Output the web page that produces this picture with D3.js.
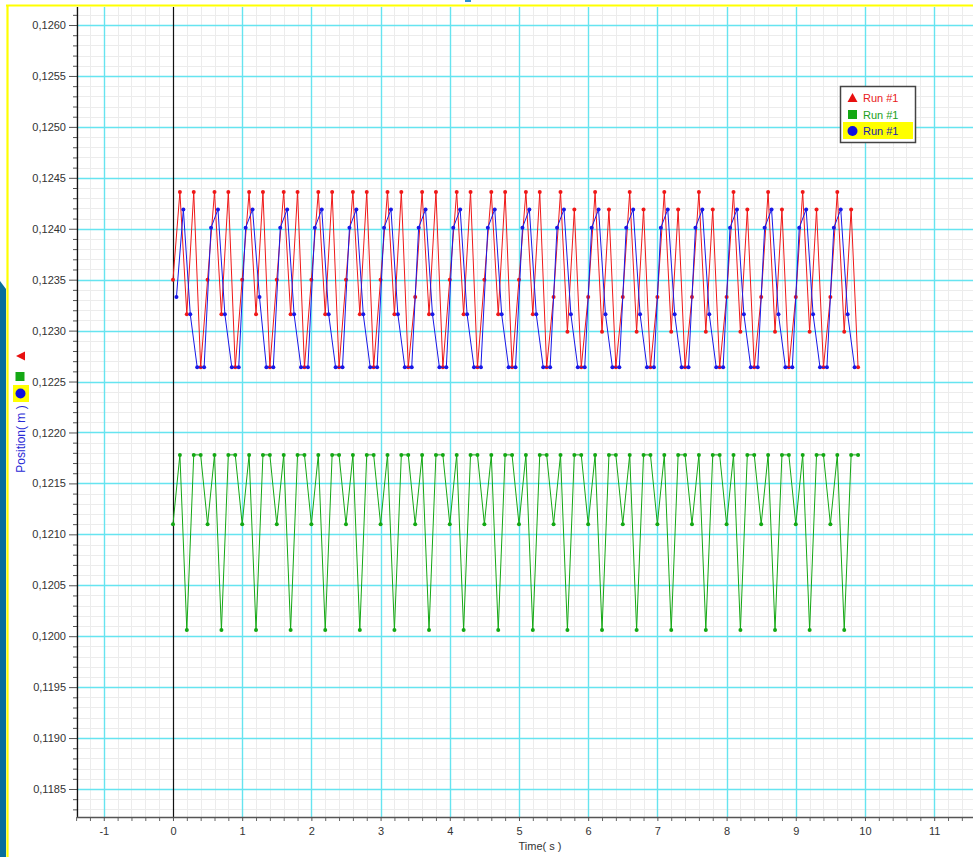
<!DOCTYPE html>
<html><head><meta charset="utf-8">
<script src="https://cdn.jsdelivr.net/npm/d3@7"></script>
<style>body{margin:0;background:#fff;overflow:hidden} svg{display:block;font-family:"Liberation Sans",Arial,sans-serif;}</style>
</head><body><svg id="c" width="973" height="857"></svg>
<script>
// ---- data ----
const xTickLabels = [-1, 0, 1, 2, 3, 4, 5, 6, 7, 8, 9, 10, 11];
const yTickLabels = [0.1185, 0.1190, 0.1195, 0.1200, 0.1205, 0.1210, 0.1215, 0.1220, 0.1225, 0.1230, 0.1235, 0.1240, 0.1245, 0.1250, 0.1255, 0.1260];
const seriesNames = ["Run #1", "Run #1", "Run #1"];

const redTime = [0,0.1,0.2,0.3,0.4,0.5,0.6,0.7,0.8,0.9,1,1.1,1.2,1.3,1.4,1.5,1.6,1.7,1.8,1.9,2,2.1,2.2,2.3,2.4,2.5,2.6,2.7,2.8,2.9,3,3.1,3.2,3.3,3.4,3.5,3.6,3.7,3.8,3.9,4,4.1,4.2,4.3,4.4,4.5,4.6,4.7,4.8,4.9,5,5.1,5.2,5.3,5.4,5.5,5.6,5.7,5.8,5.9,6,6.1,6.2,6.3,6.4,6.5,6.6,6.7,6.8,6.9,7,7.1,7.2,7.3,7.4,7.5,7.6,7.7,7.8,7.9,8,8.1,8.2,8.3,8.4,8.5,8.6,8.7,8.8,8.9,9,9.1,9.2,9.3,9.4,9.5,9.6,9.7,9.8,9.9];
const redValues = [
0.1235,0.12436,0.12316,0.12436,0.12264, 0.1235,0.12436,0.12316,0.12436,0.12264,
0.1235,0.12436,0.12316,0.12436,0.12264, 0.1235,0.12436,0.12316,0.12436,0.12264,
0.1235,0.12436,0.12316,0.12436,0.12264, 0.1235,0.12436,0.12316,0.12436,0.12264,
0.1235,0.12436,0.12316,0.12436,0.12264, 0.12333,0.12436,0.12316,0.12436,0.12264,
0.1235,0.12436,0.12316,0.12436,0.12264, 0.1235,0.12436,0.12316,0.12436,0.12264,
0.1235,0.12436,0.12316,0.12436,0.12264, 0.12333,0.12436,0.12299,0.12419,0.12264,
0.12333,0.12436,0.12299,0.12419,0.12264, 0.12333,0.12436,0.12299,0.12419,0.12264,
0.12333,0.12436,0.12299,0.12419,0.12264, 0.12333,0.12436,0.12299,0.12419,0.12264,
0.12333,0.12436,0.12299,0.12419,0.12264, 0.12333,0.12436,0.12299,0.12419,0.12264,
0.12333,0.12436,0.12299,0.12419,0.12264, 0.12333,0.12436,0.12299,0.12419,0.12264];

const greenTime = redTime;
const greenValues = [
0.1211,0.12178,0.12006,0.12178,0.12178, 0.1211,0.12178,0.12006,0.12178,0.12178,
0.1211,0.12178,0.12006,0.12178,0.12178, 0.1211,0.12178,0.12006,0.12178,0.12178,
0.1211,0.12178,0.12006,0.12178,0.12178, 0.1211,0.12178,0.12006,0.12178,0.12178,
0.1211,0.12178,0.12006,0.12178,0.12178, 0.1211,0.12178,0.12006,0.12178,0.12178,
0.1211,0.12178,0.12006,0.12178,0.12178, 0.1211,0.12178,0.12006,0.12178,0.12178,
0.1211,0.12178,0.12006,0.12178,0.12178, 0.1211,0.12178,0.12006,0.12178,0.12178,
0.1211,0.12178,0.12006,0.12178,0.12178, 0.1211,0.12178,0.12006,0.12178,0.12178,
0.1211,0.12178,0.12006,0.12178,0.12178, 0.1211,0.12178,0.12006,0.12178,0.12178,
0.1211,0.12178,0.12006,0.12178,0.12178, 0.1211,0.12178,0.12006,0.12178,0.12178,
0.1211,0.12178,0.12006,0.12178,0.12178, 0.1211,0.12178,0.12006,0.12178,0.12178];

const blueTime = [0.05,0.15,0.25,0.35,0.45,0.55,0.65,0.75,0.85,0.95,1.05,1.15,1.25,1.35,1.45,1.55,1.65,1.75,1.85,1.95,2.05,2.15,2.25,2.35,2.45,2.55,2.65,2.75,2.85,2.95,3.05,3.15,3.25,3.35,3.45,3.55,3.65,3.75,3.85,3.95,4.05,4.15,4.25,4.35,4.45,4.55,4.65,4.75,4.85,4.95,5.05,5.15,5.25,5.35,5.45,5.55,5.65,5.75,5.85,5.95,6.05,6.15,6.25,6.35,6.45,6.55,6.65,6.75,6.85,6.95,7.05,7.15,7.25,7.35,7.45,7.55,7.65,7.75,7.85,7.95,8.05,8.15,8.25,8.35,8.45,8.55,8.65,8.75,8.85,8.95,9.05,9.15,9.25,9.35,9.45,9.55,9.65,9.75,9.85];
const blueValues = [
0.12333,0.12419,0.12316,0.12264,0.12264, 0.12401,0.12419,0.12316,0.12264,0.12264,
0.12401,0.12419,0.12333,0.12264,0.12264, 0.12401,0.12419,0.12316,0.12264,0.12264,
0.12401,0.12419,0.12316,0.12264,0.12264, 0.12401,0.12419,0.12316,0.12264,0.12264,
0.12401,0.12419,0.12316,0.12264,0.12264, 0.12401,0.12419,0.12316,0.12264,0.12264,
0.12401,0.12419,0.12316,0.12264,0.12264, 0.12401,0.12419,0.12316,0.12264,0.12264,
0.12401,0.12419,0.12316,0.12264,0.12264, 0.12401,0.12419,0.12316,0.12264,0.12264,
0.12401,0.12419,0.12316,0.12264,0.12264, 0.12401,0.12419,0.12316,0.12264,0.12264,
0.12401,0.12419,0.12316,0.12264,0.12264, 0.12401,0.12419,0.12316,0.12264,0.12264,
0.12401,0.12419,0.12316,0.12264,0.12264, 0.12401,0.12419,0.12316,0.12264,0.12264,
0.12401,0.12419,0.12316,0.12264,0.12264, 0.12401,0.12419,0.12316,0.12264];

// ---- layout ----
const svg = d3.select("#c");
const pLeft = 77, pRight = 973, pTop = 7, pBottom = 817;
const x = d3.scaleLinear().domain([-1.387, 11.561]).range([pLeft, pRight]);
const y = d3.scaleLinear().domain([0.118225, 0.126177]).range([pBottom, pTop]);

// frame decorations
svg.append("polygon").attr("points", "0,281 6,289 6,857 0,857").attr("fill", "#0a6f9c");
svg.append("rect").attr("x", 465).attr("y", 0).attr("width", 6).attr("height", 2).attr("fill", "#2a8fd0");

// minor grid
const xMinor = d3.range(-1.4, 11.6, 0.2).filter(v => Math.abs(v - Math.round(v)) > 1e-6);
const yMinor = d3.range(0.1183, 0.12618, 0.0001).filter(v => Math.abs(v * 2000 - Math.round(v * 2000)) > 1e-6);
const g = svg.append("g");
g.selectAll(".xm").data(xMinor).join("line")
  .attr("x1", d => Math.round(x(d)) + 0.5).attr("x2", d => Math.round(x(d)) + 0.5)
  .attr("y1", pTop).attr("y2", pBottom).attr("stroke", "#ececec");
g.selectAll(".ym").data(yMinor).join("line")
  .attr("y1", d => Math.round(y(d)) + 0.5).attr("y2", d => Math.round(y(d)) + 0.5)
  .attr("x1", pLeft).attr("x2", pRight).attr("stroke", "#ececec");
// major grid
g.selectAll(".xM").data(xTickLabels.filter(d => d !== 0)).join("line")
  .attr("x1", d => Math.round(x(d)) + 0.5).attr("x2", d => Math.round(x(d)) + 0.5)
  .attr("y1", pTop).attr("y2", pBottom).attr("stroke", "#66e4f0").attr("stroke-width", 1.4);
g.selectAll(".yM").data(yTickLabels).join("line")
  .attr("y1", d => Math.round(y(d)) + 0.5).attr("y2", d => Math.round(y(d)) + 0.5)
  .attr("x1", pLeft).attr("x2", pRight).attr("stroke", "#66e4f0").attr("stroke-width", 1.4);
// zero line
svg.append("line").attr("x1", Math.round(x(0)) + 0.5).attr("x2", Math.round(x(0)) + 0.5)
  .attr("y1", pTop).attr("y2", pBottom).attr("stroke", "#111").attr("stroke-width", 1.2);

// yellow frame
svg.append("line").attr("x1", 6).attr("x2", 973).attr("y1", 5.5).attr("y2", 5.5).attr("stroke", "#ffff00").attr("stroke-width", 2.2);
svg.append("line").attr("x1", 7.5).attr("x2", 7.5).attr("y1", 5).attr("y2", 857).attr("stroke", "#ffff00").attr("stroke-width", 2.2);

// axes
const fmt = d => d3.format(".4f")(d).replace(".", ",");
const yAxisMinor = d3.axisLeft(y).tickValues(yMinor).tickSize(4).tickFormat("");
svg.append("g").attr("transform", `translate(${pLeft},0)`).call(yAxisMinor)
  .call(s => s.select(".domain").remove()).selectAll("line").attr("stroke", "#555");
const yAxis = d3.axisLeft(y).tickValues(yTickLabels).tickSize(8).tickPadding(3).tickFormat(fmt);
const ya = svg.append("g").attr("transform", `translate(${pLeft},0)`).call(yAxis);
ya.select(".domain").remove();
ya.selectAll("line").attr("stroke", "#555");
ya.selectAll("text").attr("font-size", 11).attr("fill", "#333").attr("font-family", "Liberation Sans, Arial, sans-serif");
svg.append("line").attr("x1", pLeft + 0.5).attr("x2", pLeft + 0.5).attr("y1", pTop).attr("y2", pBottom).attr("stroke", "#111").attr("stroke-width", 1.3);

const xAxisMinor = d3.axisBottom(x).tickValues(xMinor).tickSize(4).tickFormat("");
svg.append("g").attr("transform", `translate(0,${pBottom})`).call(xAxisMinor)
  .call(s => s.select(".domain").remove()).selectAll("line").attr("stroke", "#666");
const xAxis = d3.axisBottom(x).tickValues(xTickLabels).tickSize(4).tickPadding(6).tickFormat(d => String(d));
const xa = svg.append("g").attr("transform", `translate(0,${pBottom})`).call(xAxis);
xa.select(".domain").remove();
xa.selectAll("line").attr("stroke", "#555");
xa.selectAll("text").attr("font-size", 11).attr("fill", "#333").attr("font-family", "Liberation Sans, Arial, sans-serif");
svg.append("line").attr("x1", pLeft).attr("x2", pRight).attr("y1", pBottom + 0.5).attr("y2", pBottom + 0.5).attr("stroke", "#555").attr("stroke-width", 1.3);

svg.append("text").attr("x", 540).attr("y", 850).attr("text-anchor", "middle")
  .attr("font-size", 11).attr("fill", "#333").text("Time( s )");

// y title + symbols
svg.append("text").attr("transform", "translate(25,439) rotate(-90)").attr("text-anchor", "middle")
  .attr("font-size", 12).attr("fill", "#2a2ad6").text("Position( m )");
svg.append("path").attr("d", "M16,356 L25,351.5 L25,360.5 Z").attr("fill", "#e81010");
svg.append("rect").attr("x", 15.5).attr("y", 372).attr("width", 9).attr("height", 9).attr("fill", "#14a814");
svg.append("rect").attr("x", 13).attr("y", 385).attr("width", 16).attr("height", 17).attr("fill", "#ffff00");
svg.append("circle").attr("cx", 20.5).attr("cy", 393.5).attr("r", 5).attr("fill", "#1010e0");

// series
const series = [
  {name: seriesNames[0], t: redTime, v: redValues, color: "#f01818"},
  {name: seriesNames[1], t: greenTime, v: greenValues, color: "#14a814"},
  {name: seriesNames[2], t: blueTime, v: blueValues, color: "#1818e8"}
];
const line = d3.line().x(d => x(d[0])).y(d => y(d[1]));
series.forEach(s => {
  const pts = s.t.map((t, i) => [t, s.v[i]]);
  const sg = svg.append("g");
  sg.append("path").datum(pts).attr("d", line).attr("fill", "none").attr("stroke", s.color).attr("stroke-width", 1);
  sg.selectAll("circle").data(pts).join("circle")
    .attr("cx", d => x(d[0])).attr("cy", d => y(d[1])).attr("r", 2).attr("fill", s.color);
});

// legend
const lg = svg.append("g");
lg.append("rect").attr("x", 840.5).attr("y", 86.5).attr("width", 75).attr("height", 56)
  .attr("fill", "#fff").attr("stroke", "#444").attr("stroke-width", 1.5);
lg.append("rect").attr("x", 843).attr("y", 122).attr("width", 70).attr("height", 17).attr("fill", "#ffff00");
lg.append("path").attr("d", "M852.5,93 L857.5,102 L847.5,102 Z").attr("fill", "#e81010");
lg.append("rect").attr("x", 848).attr("y", 110).attr("width", 9).attr("height", 9).attr("fill", "#14a814");
lg.append("circle").attr("cx", 852.5).attr("cy", 131).attr("r", 5).attr("fill", "#1010e0");
const legendColors = ["#e82020", "#20a020", "#2020b0"];
[0, 1, 2].forEach(i => {
  lg.append("text").attr("x", 863).attr("y", 102 + i * 16.5).attr("font-size", 11)
    .attr("fill", legendColors[i]).text(seriesNames[i]);
});
</script></body></html>
